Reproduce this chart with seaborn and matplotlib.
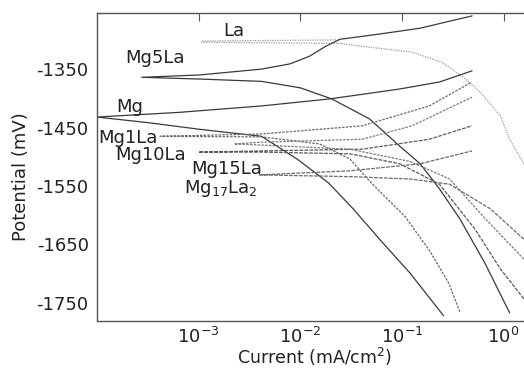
import numpy as np
import pandas as pd
import matplotlib
matplotlib.use("Agg")
import matplotlib.pyplot as plt
import matplotlib.ticker as mticker
import seaborn as sns

# Tafel curves: log10 of current (mA/cm2) and potential (mV)
# each branch starts at the corrosion point and runs to larger currents
la_cat_logi = [-2.97, -1.61, -1.39, -0.90, -0.61, -0.41, -0.23, -0.03, 0.06, 0.20]
la_cat_e = [-1304, -1306, -1311, -1321, -1338, -1362, -1389, -1430, -1470, -1512]
la_an_logi = [-2.97, -1.61]
la_an_e = [-1302, -1300]

mg5_cat_logi = [-3.56, -2.99, -2.38, -2.00, -1.69, -1.32, -1.02, -0.82, -0.63, -0.43, -0.18, 0.06]
mg5_cat_e = [-1364, -1367, -1371, -1382, -1401, -1435, -1482, -1512, -1555, -1606, -1683, -1767]
mg5_an_logi = [-3.56, -2.99, -2.38, -2.10, -1.91, -1.76, -1.61, -1.22, -0.82, -0.53, -0.31]
mg5_an_e = [-1364, -1360, -1350, -1341, -1328, -1312, -1299, -1290, -1280, -1268, -1259]

mg_cat_logi = [-4.0, -3.48, -2.99, -2.38, -2.03, -1.72, -1.48, -1.22, -0.92, -0.59]
mg_cat_e = [-1432, -1442, -1453, -1465, -1504, -1545, -1589, -1641, -1699, -1772]
mg_an_logi = [-4.0, -3.19, -2.38, -1.71, -1.02, -0.63, -0.31]
mg_an_e = [-1432, -1424, -1413, -1401, -1384, -1372, -1353]

mg1_cat_logi = [-3.38, -2.38, -1.81, -1.51, -1.30, -0.97, -0.73, -0.54, -0.43]
mg1_cat_e = [-1465, -1466, -1478, -1504, -1545, -1602, -1660, -1716, -1765]
mg1_an_logi = [-3.38, -2.38, -1.39, -0.73, -0.31]
mg1_an_e = [-1465, -1461, -1447, -1413, -1372]

mg10_cat_logi = [-3.0, -2.38, -1.51, -1.02, -0.63, -0.28, -0.03, 0.20]
mg10_cat_e = [-1492, -1492, -1495, -1512, -1547, -1624, -1692, -1743]
mg10_an_logi = [-3.0, -2.38, -1.39, -0.73, -0.31]
mg10_an_e = [-1492, -1490, -1487, -1470, -1447]

mg15_cat_logi = [-2.65, -2.38, -1.51, -0.92, -0.53, -0.18, 0.20]
mg15_cat_e = [-1478, -1480, -1487, -1508, -1538, -1606, -1675]
mg15_an_logi = [-2.65, -2.38, -1.39, -0.90, -0.31]
mg15_an_e = [-1478, -1475, -1470, -1447, -1398]

mg17_cat_logi = [-2.40, -1.51, -0.92, -0.53, -0.13, 0.20]
mg17_cat_e = [-1531, -1534, -1538, -1547, -1589, -1641]
mg17_an_logi = [-2.40, -1.51, -0.82, -0.31]
mg17_an_e = [-1531, -1524, -1512, -1490]

alloys = ["La", "Mg5La", "Mg", "Mg1La", "Mg10La", "Mg15La", "Mg17La2"]
branches = {
    "La": (la_cat_logi, la_cat_e, la_an_logi, la_an_e),
    "Mg5La": (mg5_cat_logi, mg5_cat_e, mg5_an_logi, mg5_an_e),
    "Mg": (mg_cat_logi, mg_cat_e, mg_an_logi, mg_an_e),
    "Mg1La": (mg1_cat_logi, mg1_cat_e, mg1_an_logi, mg1_an_e),
    "Mg10La": (mg10_cat_logi, mg10_cat_e, mg10_an_logi, mg10_an_e),
    "Mg15La": (mg15_cat_logi, mg15_cat_e, mg15_an_logi, mg15_an_e),
    "Mg17La2": (mg17_cat_logi, mg17_cat_e, mg17_an_logi, mg17_an_e),
}

label_text = ["La", "Mg5La", "Mg", "Mg1La", "Mg10La", "Mg15La", "Mg$_{17}$La$_{2}$"]
label_x = [1.76e-3, 1.9e-4, 1.55e-4, 1.02e-4, 1.5e-4, 8.5e-4, 7.2e-4]
label_y = [-1285, -1331, -1415, -1468, -1497, -1521, -1554]

styles = {
    "La": ("#9a9a9a", (1, 1)),
    "Mg5La": ("#3a3a3a", ""),
    "Mg": ("#3a3a3a", ""),
    "Mg1La": ("#6a6a6a", (2, 1)),
    "Mg10La": ("#5a5a5a", (3, 1)),
    "Mg15La": ("#7a7a7a", (2, 1)),
    "Mg17La2": ("#6a6a6a", (3, 1)),
}

rows = []
for name in alloys:
    cl, ce, al, ae = branches[name]
    logi = list(reversed(cl)) + list(al)
    pot = list(reversed(ce)) + list(ae)
    for k, (li, e) in enumerate(zip(logi, pot)):
        rows.append({"alloy": name, "order": k, "current": 10 ** li, "potential": e})
df = pd.DataFrame(rows)

sns.set_style("white")
plt.rcParams["font.family"] = ["DejaVu Sans"]

fig = plt.figure(figsize=(5.24, 3.68), dpi=100)
ax = fig.add_axes([97 / 524, 1 - 321 / 368, (534 - 97) / 524, (321 - 13) / 368])

for name in alloys:
    col, dash = styles[name]
    sub = df[df["alloy"] == name]
    sns.lineplot(data=sub, x="current", y="potential", sort=False, estimator=None,
                 color=col, linewidth=0.9, ax=ax, legend=False)
    if dash:
        ax.lines[-1].set_dashes(dash)

ax.set_xscale("log")
ax.set_xlim(1e-4, 10 ** 0.3)
ax.set_ylim(-1781, -1254)

ax.xaxis.set_major_locator(mticker.FixedLocator([1e-3, 1e-2, 1e-1, 1e0]))
ax.xaxis.set_major_formatter(mticker.LogFormatterSciNotation())
ax.xaxis.set_minor_locator(mticker.NullLocator())
ax.yaxis.set_major_locator(mticker.FixedLocator(np.arange(-1750, -1299, 50)))
ax.yaxis.set_major_formatter(mticker.FuncFormatter(lambda v, p: f"{int(v)}" if int(v) % 100 == 50 else ""))
ax.tick_params(axis="both", direction="in", length=6, width=0.8, color="#555555",
               labelsize=13, labelcolor="#222222", pad=6)
ax.tick_params(axis="x", top=True, pad=4)

for side in ["left", "bottom", "top"]:
    ax.spines[side].set_color("#555555")
    ax.spines[side].set_linewidth(1.0)
ax.spines["right"].set_visible(False)

ax.set_xlabel("Current (mA/cm$^{2}$)", fontsize=12.5, color="#222222")
ax.xaxis.set_label_coords((315 - 97) / (534 - 97), -(357 - 321) / (321 - 13))
ax.xaxis.label.set_va("center")
ax.set_ylabel("Potential (mV)", fontsize=13, color="#222222")
ax.yaxis.set_label_coords(-(97 - 21) / (534 - 97), (321 - 177) / (321 - 13))
ax.yaxis.label.set_va("center")

for t, x, y in zip(label_text, label_x, label_y):
    ax.text(x, y, t, fontsize=13, color="#222222", ha="left", va="center")

fig.savefig("out.png", dpi=100)
